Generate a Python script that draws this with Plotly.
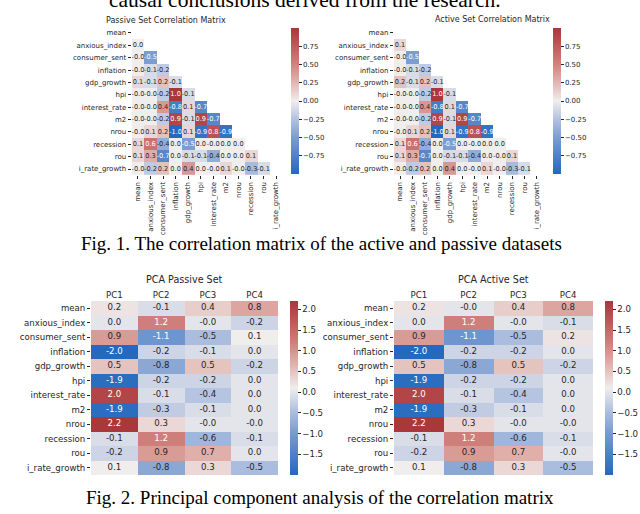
import plotly.graph_objects as go

# ---------------- data ----------------
variables = ["mean", "anxious_index", "consumer_sent", "inflation", "gdp_growth", "hpi",
             "interest_rate", "m2", "nrou", "recession", "rou", "i_rate_growth"]

# lower-triangle correlations (row i has i values, columns 0..i-1)
passive_corr_rows = [
    [],
    [0.0],
    [-0.0, -0.5],
    [-0.0, -0.1, -0.2],
    [0.1, -0.1, 0.2, -0.1],
    [-0.0, -0.0, -0.2, 1.0, -0.1],
    [-0.0, -0.0, 0.4, -0.8, 0.1, -0.7],
    [-0.0, -0.0, -0.2, 0.9, -0.1, 0.9, -0.7],
    [-0.0, 0.1, 0.2, -1.0, 0.1, -0.9, 0.8, -0.9],
    [0.1, 0.6, -0.4, 0.0, -0.5, 0.0, -0.0, 0.0, 0.0],
    [0.1, 0.3, -0.7, 0.0, -0.1, -0.1, -0.4, 0.0, 0.0, 0.1],
    [-0.0, -0.2, 0.2, 0.0, 0.4, 0.0, -0.0, 0.1, -0.0, -0.3, -0.1],
]
active_corr_rows = [
    [],
    [0.1],
    [-0.0, -0.5],
    [-0.0, -0.1, -0.2],
    [0.2, -0.1, 0.2, -0.1],
    [-0.0, -0.0, -0.2, 1.0, -0.1],
    [-0.0, -0.0, 0.4, -0.8, 0.1, -0.7],
    [-0.0, -0.0, -0.2, 0.9, -0.1, 0.9, -0.7],
    [-0.0, 0.1, 0.2, -1.0, 0.1, -0.9, 0.8, -0.9],
    [0.1, 0.6, -0.4, 0.0, -0.5, 0.0, -0.0, 0.0, 0.0],
    [0.1, 0.3, -0.7, 0.0, -0.1, -0.1, -0.4, 0.0, -0.0, 0.1],
    [-0.0, -0.2, 0.2, 0.0, 0.4, 0.0, -0.0, 0.1, -0.0, -0.3, -0.1],
]

components = ["PC1", "PC2", "PC3", "PC4"]
pca_passive = [
    [0.2, -0.1, 0.4, 0.8],
    [0.0, 1.2, -0.0, -0.2],
    [0.9, -1.1, -0.5, 0.1],
    [-2.0, -0.2, -0.1, 0.0],
    [0.5, -0.8, 0.5, -0.2],
    [-1.9, -0.2, -0.2, 0.0],
    [2.0, -0.1, -0.4, 0.0],
    [-1.9, -0.3, -0.1, 0.0],
    [2.2, 0.3, -0.0, -0.0],
    [-0.1, 1.2, -0.6, -0.1],
    [-0.2, 0.9, 0.7, 0.0],
    [0.1, -0.8, 0.3, -0.5],
]
pca_active = [
    [0.2, -0.0, 0.4, 0.8],
    [0.0, 1.2, -0.0, -0.1],
    [0.9, -1.1, -0.5, 0.2],
    [-2.0, -0.2, -0.2, 0.0],
    [0.5, -0.8, 0.5, -0.2],
    [-1.9, -0.2, -0.2, 0.0],
    [2.0, -0.1, -0.4, 0.0],
    [-1.9, -0.3, -0.1, 0.0],
    [2.2, 0.3, -0.0, -0.0],
    [-0.1, 1.2, -0.6, -0.1],
    [-0.2, 0.9, 0.7, -0.0],
    [0.1, -0.8, 0.3, -0.5],
]

corr_ticks = [-0.75, -0.5, -0.25, 0.0, 0.25, 0.5, 0.75]
pca_ticks = [-1.5, -1.0, -0.5, 0.0, 0.5, 1.0, 1.5, 2.0]

# ---------------- styling ----------------
W, H = 640, 514
FONT = "DejaVu Sans"
DARK = "#262626"
vlag = [
    [0.0, (35, 105, 189)],
    [0.125, (78, 130, 198)],
    [0.25, (124, 157, 209)],
    [0.375, (178, 194, 224)],
    [0.5, (240, 237, 237)],
    [0.625, (226, 182, 177)],
    [0.75, (209, 131, 126)],
    [0.875, (190, 91, 90)],
    [1.0, (169, 55, 59)],
]
colorscale = [[p, "rgb(%d,%d,%d)" % c] for p, c in vlag]


def interp_color(t):
    t = min(max(t, 0.0), 1.0)
    for (p0, c0), (p1, c1) in zip(vlag[:-1], vlag[1:]):
        if p0 <= t <= p1:
            f = (t - p0) / (p1 - p0) if p1 > p0 else 0
            return tuple(c0[k] + f * (c1[k] - c0[k]) for k in range(3))
    return vlag[-1][1]


def luminance(rgb):
    out = []
    for v in rgb:
        v = v / 255.0
        out.append(v / 12.92 if v <= 0.03928 else ((v + 0.055) / 1.055) ** 2.4)
    return 0.2126 * out[0] + 0.7152 * out[1] + 0.0722 * out[2]


def px_x(p):
    return p / W


def px_y(p):
    return 1 - p / H


fig = go.Figure()


def add_heat(z, xcats, ycats, axis_id, cax, zmin, zmax, fsize):
    xa = "x" if axis_id == 1 else "x%d" % axis_id
    ya = "y" if axis_id == 1 else "y%d" % axis_id
    fig.add_trace(go.Heatmap(z=z, x=xcats, y=ycats, coloraxis=cax, xaxis=xa, yaxis=ya,
                             hoverongaps=False, showscale=True))
    tx, ty, tt, tc = [], [], [], []
    for i, row in enumerate(z):
        for j, v in enumerate(row):
            if v is None:
                continue
            tx.append(xcats[j])
            ty.append(ycats[i])
            tt.append(f"{v:.1f}")
            col = interp_color((v - zmin) / (zmax - zmin))
            tc.append("white" if luminance(col) < 0.36 else DARK)
    fig.add_trace(go.Scatter(x=tx, y=ty, text=tt, mode="text", xaxis=xa, yaxis=ya,
                             textfont=dict(family=FONT, size=fsize, color=tc),
                             textposition="middle center", showlegend=False, hoverinfo="skip"))


def corr_matrix(rows):
    n = len(variables)
    return [list(r) + [None] * (n - len(r)) for r in rows]


pz = corr_matrix(passive_corr_rows)
az = corr_matrix(active_corr_rows)
all_corr = [v for r in passive_corr_rows + active_corr_rows for v in r]
cmin, cmax = min(all_corr), max(all_corr)
pmin = min(min(r) for r in pca_passive + pca_active)
pmax = max(max(r) for r in pca_passive + pca_active)

add_heat(pz, variables, variables, 1, "coloraxis", cmin, cmax, 6.6)
add_heat(az, variables, variables, 2, "coloraxis2", cmin, cmax, 6.6)
add_heat(pca_passive, components, variables, 3, "coloraxis3", pmin, pmax, 8.6)
add_heat(pca_active, components, variables, 4, "coloraxis4", pmin, pmax, 8.6)

corr_y = [px_y(175.2), px_y(26.8)]
pca_y = [px_y(475), px_y(301)]
domains = {
    1: ([px_x(131.7), px_x(282.3)], corr_y),
    2: ([px_x(393.8), px_x(543.2)], corr_y),
    3: ([px_x(91), px_x(278)], pca_y),
    4: ([px_x(394), px_x(593)], pca_y),
}

layout_axes = {}
for k, (dx, dy) in domains.items():
    xn = "xaxis" if k == 1 else "xaxis%d" % k
    yn = "yaxis" if k == 1 else "yaxis%d" % k
    anchor_x = "y" if k == 1 else "y%d" % k
    anchor_y = "x" if k == 1 else "x%d" % k
    is_corr = k in (1, 2)
    xcats = variables if is_corr else components
    fs = 7 if is_corr else 8.6
    layout_axes[xn] = dict(
        domain=dx, anchor=anchor_x, type="category", categoryorder="array",
        categoryarray=xcats, range=[-0.5, len(xcats) - 0.5],
        showgrid=False, zeroline=False, showline=False,
        side="bottom" if is_corr else "top",
        ticks="outside" if is_corr else "", ticklen=3, tickwidth=0.8, tickcolor=DARK,
        tickangle=-90 if is_corr else 0, automargin=False,
        tickfont=dict(family=FONT, size=fs, color=DARK), fixedrange=True,
    )
    layout_axes[yn] = dict(
        domain=dy, anchor=anchor_y, type="category", categoryorder="array",
        categoryarray=variables, range=[len(variables) - 0.5, -0.5],
        showgrid=False, zeroline=False, showline=False, automargin=False,
        ticks="outside", ticklen=3, tickwidth=0.8, tickcolor=DARK,
        tickfont=dict(family=FONT, size=fs, color=DARK), fixedrange=True,
    )


def cbar(x0, y0, length, ticks, fmt, fs):
    return dict(
        x=px_x(x0), xanchor="left", xpad=0, y=px_y(y0), yanchor="top", ypad=0,
        lenmode="pixels", len=length, thickness=7.5, outlinewidth=0,
        tickmode="array", tickvals=ticks, tickformat=fmt,
        ticks="outside", ticklen=3, tickwidth=0.8, tickcolor=DARK,
        tickfont=dict(family=FONT, size=fs, color=DARK),
    )


fig.update_layout(
    width=W, height=H, margin=dict(l=0, r=0, t=0, b=0, autoexpand=False),
    paper_bgcolor="white", plot_bgcolor="white", showlegend=False,
    font=dict(family=FONT, color=DARK),
    coloraxis=dict(colorscale=colorscale, cmin=cmin, cmax=cmax,
                   colorbar=cbar(291, 28, 146, corr_ticks, ".2f", 7)),
    coloraxis2=dict(colorscale=colorscale, cmin=cmin, cmax=cmax,
                    colorbar=cbar(553, 28, 146, corr_ticks, ".2f", 7)),
    coloraxis3=dict(colorscale=colorscale, cmin=pmin, cmax=pmax,
                    colorbar=cbar(290, 301, 174, pca_ticks, ".1f", 8.6)),
    coloraxis4=dict(colorscale=colorscale, cmin=pmin, cmax=pmax,
                    colorbar=cbar(605, 301, 174, pca_ticks, ".1f", 8.6)),
    **layout_axes,
)

ann = [
    dict(text="Passive Set Correlation Matrix", x=px_x(166), y=px_y(21), size=8, fam=FONT, col=DARK),
    dict(text="Active Set Correlation Matrix", x=px_x(492), y=px_y(20), size=8, fam=FONT, col=DARK),
    dict(text="PCA Passive Set", x=px_x(184), y=px_y(279), size=9.6, fam=FONT, col=DARK),
    dict(text="PCA Active Set", x=px_x(493), y=px_y(279), size=9.6, fam=FONT, col=DARK),
    dict(text="Fig. 1. The correlation matrix of the active and passive datasets",
         x=px_x(321), y=px_y(243), size=19, fam="Liberation Serif", col="black"),
    dict(text="Fig. 2. Principal component analysis of the correlation matrix",
         x=px_x(320), y=px_y(497), size=19, fam="Liberation Serif", col="black"),
    dict(text="causal conclusions derived from the research.",
         x=px_x(305), y=px_y(-0.5), size=21.5, fam="Liberation Serif", col="black"),
]
for a in ann:
    fig.add_annotation(text=a["text"], x=a["x"], y=a["y"], xref="paper", yref="paper",
                       xanchor="center", yanchor="middle", showarrow=False,
                       font=dict(family=a["fam"], size=a["size"], color=a["col"]))

fig.write_html("out.html", config={"displayModeBar": False},
               post_script="document.body.style.margin='0';document.body.style.overflow='hidden';")
